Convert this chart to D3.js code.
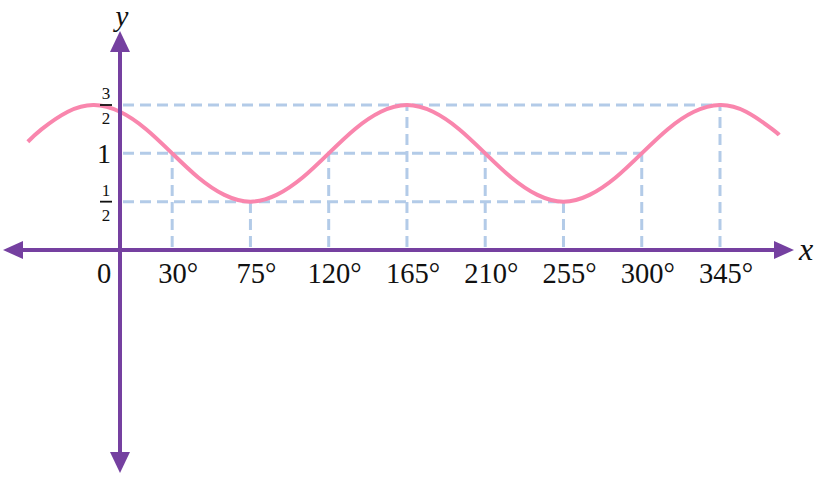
<!DOCTYPE html>
<html>
<head>
<meta charset="utf-8">
<script src="https://cdn.jsdelivr.net/npm/d3@7"></script>
<style>
  body { margin: 0; background: #fff; }
  text { font-family: "Liberation Serif", "DejaVu Serif", serif; fill: #111; }
</style>
</head>
<body>
<div id="chart"></div>
<script>
// curve points (degrees, value)
const curveX = [-53, -45, -30, -15, 0, 15, 30, 45, 60, 75, 90, 105, 120, 135, 150, 165,
                180, 195, 210, 225, 240, 255, 270, 285, 300, 315, 330, 345, 360, 375, 379];
const curveY = [1.12, 1.25, 1.43, 1.5, 1.43, 1.25, 1.0, 0.75, 0.57, 0.5, 0.57, 0.75, 1.0, 1.25, 1.43, 1.5,
                1.43, 1.25, 1.0, 0.75, 0.57, 0.5, 0.57, 0.75, 1.0, 1.25, 1.43, 1.5, 1.43, 1.25, 1.19];

// marked points with guide lines
const markX = [30, 75, 120, 165, 210, 255, 300, 345];
const markY = [1, 0.5, 1, 1.5, 1, 0.5, 1, 1.5];
const tickLabels = ["30°", "75°", "120°", "165°", "210°", "255°", "300°", "345°"];

// horizontal guides: level and furthest x reached
const levels = [1.5, 1, 0.5];
const levelEnds = [345, 300, 255];

const width = 820, height = 477;
const purple = "#7540a0";
const guideColor = "#b3cbe8";

const svg = d3.select("#chart").append("svg")
    .attr("width", width)
    .attr("height", height);

const x = d3.scaleLinear().domain([0, 345]).range([120, 720]);
const y = d3.scaleLinear().domain([0, 1.5]).range([250, 105]);

const x0 = x(0), y0 = y(0);

// dashed guides
const dash = "11,6";
svg.selectAll(".hguide")
    .data(levels)
    .enter().append("line")
    .attr("class", "hguide")
    .attr("x1", x0 + 3)
    .attr("x2", (d, i) => x(levelEnds[i]))
    .attr("y1", d => y(d))
    .attr("y2", d => y(d))
    .attr("stroke", guideColor)
    .attr("stroke-width", 3)
    .attr("stroke-dasharray", dash);

svg.selectAll(".vguide")
    .data(markX)
    .enter().append("line")
    .attr("class", "vguide")
    .attr("x1", d => x(d))
    .attr("x2", d => x(d))
    .attr("y1", y0 - 3)
    .attr("y2", (d, i) => y(markY[i]))
    .attr("stroke", guideColor)
    .attr("stroke-width", 3)
    .attr("stroke-dasharray", dash);

// curve
const line = d3.line()
    .x(d => x(d[0]))
    .y(d => y(d[1]))
    .curve(d3.curveNatural);

svg.append("path")
    .datum(curveX.map((d, i) => [d, curveY[i]]))
    .attr("d", line)
    .attr("fill", "none")
    .attr("stroke", "#f986ad")
    .attr("stroke-width", 4);

// axes
svg.append("line")
    .attr("x1", 18).attr("x2", 778)
    .attr("y1", y0).attr("y2", y0)
    .attr("stroke", purple).attr("stroke-width", 4);

svg.append("line")
    .attr("x1", x0).attr("x2", x0)
    .attr("y1", 48).attr("y2", 458)
    .attr("stroke", purple).attr("stroke-width", 4);

const heads = [
    [[3, y0], [23, y0 - 9], [23, y0 + 9]],
    [[794, y0], [774, y0 - 9], [774, y0 + 9]],
    [[x0, 31], [x0 - 10, 52], [x0 + 10, 52]],
    [[x0, 473], [x0 - 10, 452], [x0 + 10, 452]]
];
svg.selectAll(".head")
    .data(heads)
    .enter().append("path")
    .attr("class", "head")
    .attr("d", d => "M" + d.join("L") + "Z")
    .attr("fill", purple);

// axis titles
svg.append("text")
    .attr("x", 806).attr("y", 260)
    .attr("text-anchor", "middle")
    .attr("font-style", "italic")
    .attr("font-size", 32)
    .text("x");

svg.append("text")
    .attr("x", x0 + 2).attr("y", 26)
    .attr("text-anchor", "middle")
    .attr("font-style", "italic")
    .attr("font-size", 29)
    .text("y");

// x tick labels
svg.selectAll(".xlab")
    .data(markX)
    .enter().append("text")
    .attr("class", "xlab")
    .attr("x", d => x(d) + 6)
    .attr("y", y0 + 33)
    .attr("text-anchor", "middle")
    .attr("font-size", 28.5)
    .text((d, i) => tickLabels[i]);

svg.append("text")
    .attr("x", 104).attr("y", y0 + 33)
    .attr("text-anchor", "middle")
    .attr("font-size", 28.5)
    .text("0");

// y labels
svg.append("text")
    .attr("x", 104).attr("y", y(1) + 10)
    .attr("text-anchor", "middle")
    .attr("font-size", 28)
    .text("1");

function fraction(num, den, v) {
    const cy = y(v);
    svg.append("text")
        .attr("x", 106).attr("y", cy - 6)
        .attr("text-anchor", "middle")
        .attr("font-size", 17)
        .text(num);
    svg.append("line")
        .attr("x1", 100).attr("x2", 112)
        .attr("y1", cy).attr("y2", cy)
        .attr("stroke", "#111").attr("stroke-width", 1.8);
    svg.append("text")
        .attr("x", 106).attr("y", cy + 19)
        .attr("text-anchor", "middle")
        .attr("font-size", 17)
        .text(den);
}
fraction("3", "2", 1.5);
fraction("1", "2", 0.5);
</script>
</body>
</html>
